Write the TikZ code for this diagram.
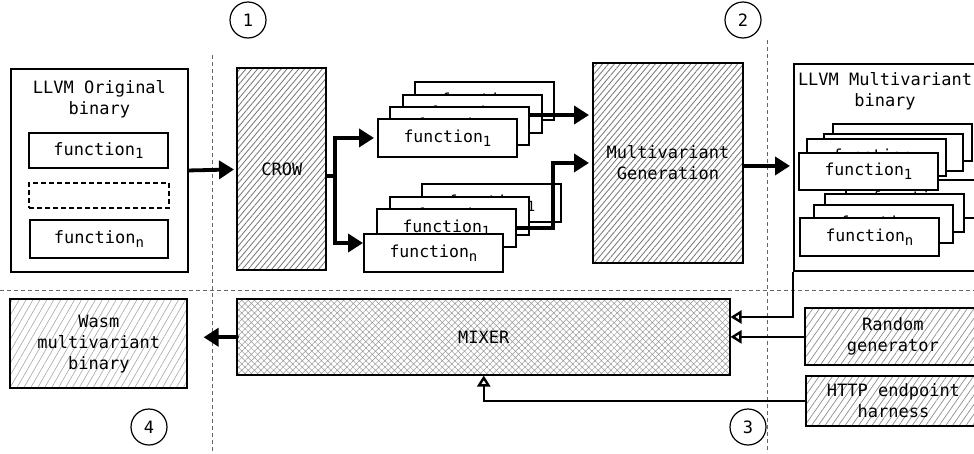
\documentclass[tikz,border=0pt]{standalone}
\usepackage{fontspec}
\setmonofont{DejaVu Sans Mono}
\usetikzlibrary{
  arrows.meta,     % arrow tips
  patterns.meta,   % hatched fillings
  calc             % shifted anchors
}
\newcommand{\fsub}[1]{\raisebox{-0.4ex}{\fontsize{14}{14}\selectfont #1}}
\tikzset{
  x=1pt, y=-1pt,
  every node/.style = {
    font=\ttfamily\fontsize{17}{21}\selectfont,
    inner sep=0pt,
    align=center
  },
  blk/.style = {draw, line width=1.9pt, anchor=north west},
  box/.append style = {blk, fill=white},
  fbox/.append style = {box, minimum width=139pt, minimum height=38pt,
    font=\ttfamily\fontsize{16.5}{20}\selectfont},
  hatch/.append style = {blk, pattern={Lines[angle=50,distance=4.5pt,line width=0.8pt]},
    pattern color=black!55},
  lighthatch/.append style = {blk, pattern={Lines[angle=55,distance=5.5pt,line width=0.7pt]},
    pattern color=black!45},
  dashhatch/.append style = {blk, pattern={Lines[angle=60,distance=6pt,line width=0.6pt]},
    pattern color=black!35},
  cross/.append style = {blk, pattern={Hatch[angle=45,distance=4.5pt,line width=0.5pt]},
    pattern color=black!40},
  step-no/.append style = {circle, draw, line width=1.2pt, minimum size=36pt},
  divider/.append style = {draw=black!60, dash pattern=on 4pt off 3pt, line width=0.8pt},
  bigarrow/.append style = {line width=3.8pt, line cap=round,
    -{Triangle[length=15pt,width=18pt]}},
  thickline/.append style = {line width=3.8pt, line cap=round},
  openarrow/.append style = {line width=2.4pt,
    -{Triangle[open,length=11pt,width=13pt,line width=2.4pt]}}
}

\begin{document}
\begin{tikzpicture}
  \useasboundingbox (0,0) rectangle (974,453);

  %% dividers
  \draw[divider] (212,55) -- (212,453);
  \draw[divider] (767,40) -- (767,453);
  \draw[divider] (0,290) -- (974,290);

  %% step numbers
  \node[step-no] (s1) at (248,20) {1};
  \node[step-no] (s2) at (743,20) {2};
  \node[step-no] (s3) at (748,427) {3};
  \node[step-no] (s4) at (149,427) {4};

  %% original binary
  \node[box, minimum width=177pt, minimum height=203pt] (orig) at (10,68) {};
  \node[anchor=north] (origtitle) at ($(orig.north)+(0,12)$) {LLVM Original\\binary};
  \node[box, minimum width=139pt, minimum height=35pt] (of1) at (28,132) {function\fsub{1}};
  \node[box, dash pattern=on 5pt off 3pt, minimum width=140pt, minimum height=25pt] (ofd) at (28,182) {};
  \node[box, minimum width=138pt, minimum height=38pt] (ofn) at (29,219) {function\fsub{n}};

  %% crow
  \node[hatch, minimum width=89pt, minimum height=202pt] (crow) at (237,68) {CROW};

  %% variants
  \foreach \x/\y [count=\i] in {414/81, 402/94, 389/106}
    \node[fbox] (up\i) at (\x,\y) {function\fsub{1}};
  \node[fbox] (u1) at (377,118) {function\fsub{1}};
  \foreach \x/\y [count=\i] in {421/183, 389/196}
    \node[fbox] (lo\i) at (\x,\y) {function\fsub{1}};
  \node[fbox] (l2) at (376,208) {function\fsub{1}};
  \node[fbox] (l1) at (363,233) {function\fsub{n}};

  %% multivariant generation
  \node[hatch, minimum width=150pt, minimum height=200pt] (mg) at (592,62) {Multivariant\\Generation};

  %% multivariant binary
  \node[box, minimum width=184pt, minimum height=207pt] (mvbin) at (793,63) {};
  \node[anchor=north] (mvtitle) at (885,72) {LLVM Multivariant\\binary};
  \node[fbox] (rl4) at (845,179) {function\fsub{1}};
  \foreach \x/\y [count=\i] in {832/123, 823/133, 806/138}
    \node[fbox, minimum height=37pt] (ru\i) at (\x,\y) {function\fsub{1}};
  \node[fbox, minimum height=37pt] (mf1) at (798,152) {function\fsub{1}};
  \foreach \x/\y [count=\i] in {824/193, 813/204}
    \node[fbox] (rl\i) at (\x,\y) {function\fsub{1}};
  \node[fbox] (mfn) at (799,217) {function\fsub{n}};

  %% bottom row
  \node[dashhatch, minimum width=177pt, minimum height=89pt] (wasm) at (10,299) {Wasm\\multivariant\\binary};
  \node[cross, minimum width=493pt, minimum height=76pt] (mixer) at (237,299) {MIXER};
  \node[lighthatch, minimum width=175pt, minimum height=57pt] (rand) at (805,308) {Random\\generator};
  \node[lighthatch, minimum width=175pt, minimum height=50pt] (http) at (805,375) {HTTP endpoint\\harness};

  %% arrows
  \coordinate (split) at (335,176);
  \coordinate (mvin) at ($(mixer.north east)+(0,18)$);

  \draw[bigarrow, shorten >=3pt] (orig.east) -- (crow.west);
  \draw[thickline] (crow.east |- split) -- (split);
  \draw[bigarrow, shorten >=3pt] (split) |- (u1.west);
  \draw[bigarrow] (split) |- ($(l1.north west)+(0,10)$);
  \draw[bigarrow, shorten >=3pt] ($(up3.north east)+(0,9)$) -- ($(mg.west |- up3.north east)+(0,9)$);
  \draw[bigarrow, shorten >=3pt] (l2.east) -- ++(36,0) |- (mg.west);
  \draw[bigarrow, shorten >=3pt] ($(mg.east)+(0,3)$) -- ($(mg.east -| mvbin.west)+(0,3)$);

  \draw[bigarrow, shorten >=16pt] (mixer.west) -- (mixer.west -| wasm.east);
  \draw[openarrow] (mvbin.south west) |- (mvin);
  \draw[openarrow] (rand.west) -- (rand.west -| mixer.east);
  \draw[openarrow] (http.west) -| (mixer.south);

\end{tikzpicture}
\end{document}
